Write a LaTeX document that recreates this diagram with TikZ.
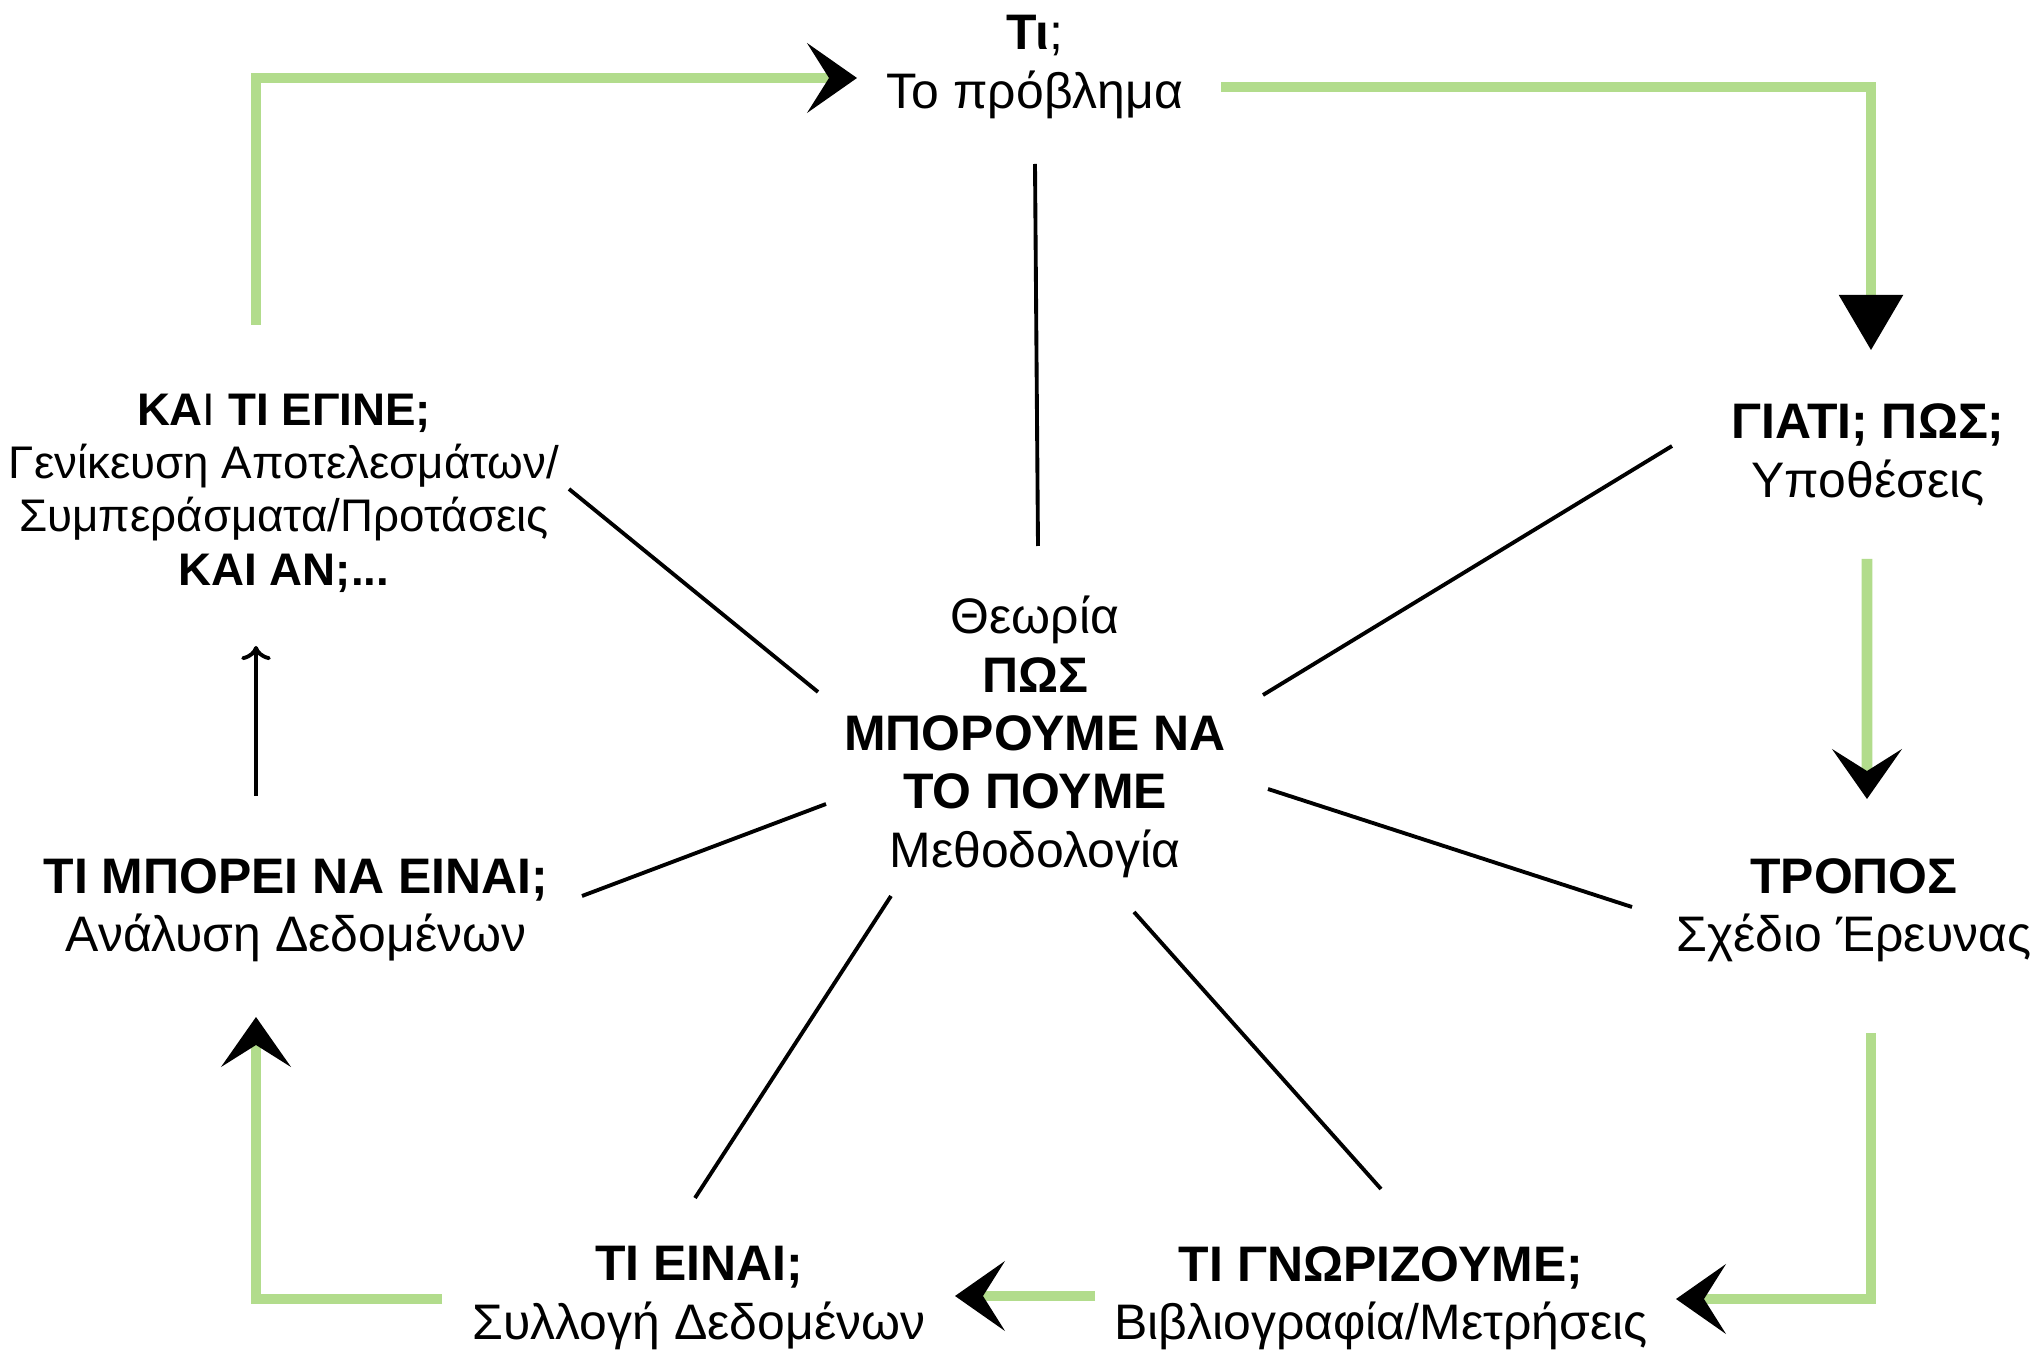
\documentclass[tikz,border=0pt]{standalone}
\usepackage{fontspec}
\setmainfont{Liberation Sans}
\usetikzlibrary{arrows.meta}
\definecolor{brush}{RGB}{178,220,140}
\begin{document}
\begin{tikzpicture}[
	lbl/.style={align=center,inner sep=0pt,font=\fontsize{14.2}{16.6}\selectfont},
	link/.style={line width=1.1pt},
	flow/.style={brush,line width=3pt},
	chev/.style={-{Stealth[length=0.5cm,width=0.7cm,inset=0.22cm,black,line width=0.6pt]}},
	tri/.style={-{Triangle[length=0.55cm,width=0.64cm,black,line width=0.6pt]}}
	]
	\fill[white] (0,0) rectangle (20.37,13.53);
	\path[use as bounding box] (0,0) rectangle (20.37,13.53);
	% the seven questions round the centre
	\node[lbl] (prob) at (10.35,12.86) {\textbf{Τι};\\Το πρόβλημα};
	\node[lbl] (hyp) at (18.68,8.98) {\textbf{ΓΙΑΤΙ; ΠΩΣ;}\\Υποθέσεις};
	\node[lbl] (design) at (18.54,4.43) {\textbf{ΤΡΟΠΟΣ}\\Σχέδιο Έρευνας};
	\node[lbl] (lit) at (13.81,0.55) {\textbf{ΤΙ ΓΝΩΡΙΖΟΥΜΕ;}\\Βιβλιογραφία/Μετρήσεις};
	\node[lbl] (coll) at (6.99,0.55) {\textbf{ΤΙ ΕΙΝΑΙ;}\\Συλλογή Δεδομένων};
	\node[lbl] (anal) at (2.96,4.43) {\textbf{ΤΙ ΜΠΟΡΕΙ ΝΑ ΕΙΝΑΙ;}\\Ανάλυση Δεδομένων};
	\node[lbl,font=\fontsize{13}{15.2}\selectfont] (gen) at (2.84,8.60) {\textbf{ΚΑ}Ι\textbf{ ΤΙ ΕΓΙΝΕ;}\\Γενίκευση Αποτελεσμάτων/\\Συμπεράσματα/Προτάσεις\\\textbf{ΚΑΙ ΑΝ;...}};
	\node[lbl] (cen) at (10.35,6.16) {Θεωρία\\\textbf{ΠΩΣ}\\\textbf{ΜΠΟΡΟΥΜΕ ΝΑ}\\\textbf{ΤΟ ΠΟΥΜΕ}\\Μεθοδολογία};
	% spokes
	\draw[link] ([shift={(0.03,1.91)}]cen.center) -- ([shift={(0,-0.97)}]prob.center);
	\draw[link] ([shift={(2.28,0.42)}]cen.center) -- ([shift={(-1.96,0.09)}]hyp.center);
	\draw[link] ([shift={(2.33,-0.52)}]cen.center) -- ([shift={(-2.22,0.03)}]design.center);
	\draw[link] ([shift={(0.99,-1.75)}]cen.center) -- ([shift={(0,1.09)}]lit.center);
	\draw[link] ([shift={(-1.44,-1.59)}]cen.center) -- ([shift={(-0.04,1.00)}]coll.center);
	\draw[link] ([shift={(-2.09,-0.67)}]cen.center) -- ([shift={(2.86,0.14)}]anal.center);
	\draw[link] ([shift={(-2.17,0.45)}]cen.center) -- ([shift={(2.85,0.04)}]gen.center);
	% the cycle
	\draw[flow,chev] ([shift={(-0.28,1.68)}]gen.center) |- ([shift={(-1.78,-0.11)}]prob.center);
	\draw[flow,tri] ([shift={(1.86,-0.20)}]prob.center) -| ([shift={(0.03,1.05)}]hyp.center);
	\draw[flow,chev] ([shift={(-0.01,-1.04)}]hyp.center) -- ([shift={(0.13,1.11)}]design.center);
	\draw[flow,chev] ([shift={(0.17,-1.23)}]design.center) |- ([shift={(2.95,-0.01)}]lit.center);
	\draw[flow,chev] ([shift={(-2.86,0.02)}]lit.center) -- ([shift={(2.56,0.02)}]coll.center);
	\draw[flow,chev] ([shift={(-2.57,-0.01)}]coll.center) -| ([shift={(-0.40,-1.07)}]anal.center);
	\draw[link,->] ([shift={(-0.40,1.14)}]anal.center) -- ([shift={(-0.28,-1.53)}]gen.center);
\end{tikzpicture}
\end{document}
